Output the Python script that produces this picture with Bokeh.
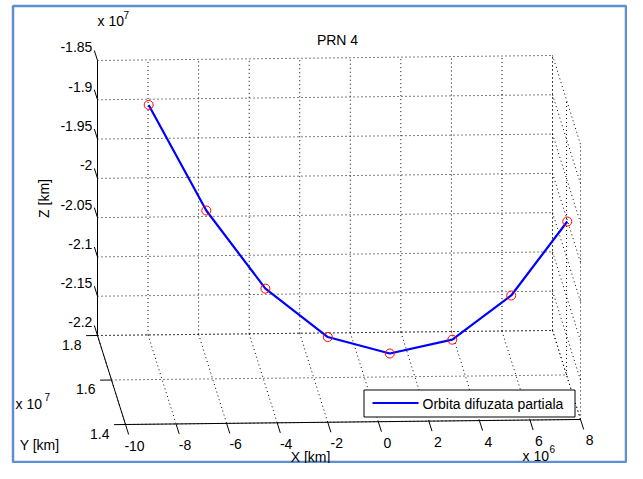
import numpy as np
from bokeh.plotting import figure
from bokeh.models import Range1d
from bokeh.core.properties import value
from bokeh.embed import file_html
from bokeh.resources import INLINE

# ---------------- data (ECEF positions, as plotted) ----------------
x_km = [-8.28e6, -6.14e6, -3.92e6, -1.535e6, 0.87e6, 3.32e6, 5.665e6, 7.93e6]
y_km = [1.690e7, 1.640e7, 1.597e7, 1.567e7, 1.550e7, 1.542e7, 1.547e7, 1.564e7]
z_km = [-1.876e7, -1.997e7, -2.085e7, -2.139e7, -2.156e7, -2.137e7, -2.083e7, -1.9945e7]

x_ticks = [-10, -8, -6, -4, -2, 0, 2, 4, 6, 8]            # x 10^6
x_tick_labels = ["-10", "-8", "-6", "-4", "-2", "0", "2", "4", "6", "8"]
y_ticks = [1.4, 1.6, 1.8]                                  # x 10^7
y_tick_labels = ["1.4", "1.6", "1.8"]
z_ticks = [-2.2, -2.15, -2.1, -2.05, -2.0, -1.95, -1.9, -1.85]  # x 10^7
z_tick_labels = ["-2.2", "-2.15", "-2.1", "-2.05", "-2", "-1.95", "-1.9", "-1.85"]

title_text = "PRN 4"
x_title, y_title, z_title = "X [km]", "Y [km]", "Z [km]"
legend_text = "Orbita difuzata partiala"

XLIM = (-10.0, 8.0)
YLIM = (1.4, 1.8)
ZLIM = (-2.2, -1.85)

# ---------------- orthographic 3-D view (MATLAB-like) ----------------
ORIGIN = (97.0, 335.0)          # screen position of (XLIM0, YLIM1, ZLIM0)
EX = (25.28, -0.28)             # per 1e6 in X
EY = (-70.0, -222.5)            # per 1e7 in Y
EZ = (0.0, -785.7)              # per 1e7 in Z


def proj(X, Y, Z):
    X = np.asarray(X, dtype=float)
    Y = np.asarray(Y, dtype=float)
    Z = np.asarray(Z, dtype=float)
    a = X - XLIM[0]
    b = Y - YLIM[1]
    c = Z - ZLIM[0]
    sx = ORIGIN[0] + EX[0] * a + EY[0] * b + EZ[0] * c
    sy = ORIGIN[1] + EX[1] * a + EY[1] * b + EZ[1] * c
    return sx, sy


FONT = value("Liberation Sans")
FS = "14px"

p = figure(width=627, height=463, x_range=Range1d(0, 627), y_range=Range1d(463, 0),
           output_backend="svg", toolbar_location=None,
           x_axis_location=None, y_axis_location=None, min_border=0)
p.grid.visible = False
p.outline_line_color = None
p.background_fill_color = "white"
p.border_fill_color = "white"

# window frame
p.quad(left=[12.5], right=[625.5], top=[5.5], bottom=[461.5], fill_color=None,
       line_color="#5f8fd3", line_width=2.5)


def seg(P0, P1, **kw):
    xs0, ys0 = proj(*P0)
    xs1, ys1 = proj(*P1)
    xs = [[float(a), float(b)] for a, b in zip(np.atleast_1d(xs0), np.atleast_1d(xs1))]
    ys = [[float(a), float(b)] for a, b in zip(np.atleast_1d(ys0), np.atleast_1d(ys1))]
    p.multi_line(xs, ys, **kw)


grid_kw = dict(line_color="black", line_width=1, line_dash="1 3", line_alpha=1.0)
xt = np.array(x_ticks, float)
yt = np.array(y_ticks, float)
zt = np.array(z_ticks, float)
one = np.ones

# back wall (Y = YLIM1)
seg((xt, YLIM[1] * one(len(xt)), ZLIM[0] * one(len(xt))),
    (xt, YLIM[1] * one(len(xt)), ZLIM[1] * one(len(xt))), **grid_kw)
seg((XLIM[0] * one(len(zt)), YLIM[1] * one(len(zt)), zt),
    (XLIM[1] * one(len(zt)), YLIM[1] * one(len(zt)), zt), **grid_kw)
# floor (Z = ZLIM0)
seg((xt, YLIM[1] * one(len(xt)), ZLIM[0] * one(len(xt))),
    (xt, YLIM[0] * one(len(xt)), ZLIM[0] * one(len(xt))), **grid_kw)
seg((XLIM[0] * one(len(yt)), yt, ZLIM[0] * one(len(yt))),
    (XLIM[1] * one(len(yt)), yt, ZLIM[0] * one(len(yt))), **grid_kw)
# right wall (X = XLIM1)
seg((XLIM[1] * one(len(yt)), yt, ZLIM[0] * one(len(yt))),
    (XLIM[1] * one(len(yt)), yt, ZLIM[1] * one(len(yt))), **grid_kw)
seg((XLIM[1] * one(len(zt)), YLIM[1] * one(len(zt)), zt),
    (XLIM[1] * one(len(zt)), YLIM[0] * one(len(zt)), zt), **grid_kw)

ax_kw = dict(line_color="black", line_width=1)
# axis lines
seg(([XLIM[0]], [YLIM[1]], [ZLIM[0]]), ([XLIM[0]], [YLIM[1]], [ZLIM[1]]), **ax_kw)
seg(([XLIM[0]], [YLIM[1]], [ZLIM[0]]), ([XLIM[0]], [YLIM[0]], [ZLIM[0]]), **ax_kw)
seg(([XLIM[0]], [YLIM[0]], [ZLIM[0]]), ([XLIM[1]], [YLIM[0]], [ZLIM[0]]), **ax_kw)

# ticks
seg((XLIM[0] * one(len(zt)), YLIM[1] * one(len(zt)), zt),
    (XLIM[0] * one(len(zt)), (YLIM[1] + 0.045) * one(len(zt)), zt), **ax_kw)
seg((XLIM[0] * one(len(yt)), yt, ZLIM[0] * one(len(yt))),
    ((XLIM[0] - 0.45) * one(len(yt)), yt, ZLIM[0] * one(len(yt))), **ax_kw)
seg((xt, YLIM[0] * one(len(xt)), ZLIM[0] * one(len(xt))),
    (xt, (YLIM[0] - 0.045) * one(len(xt)), ZLIM[0] * one(len(xt))), **ax_kw)

txt_kw = dict(text_font=FONT, text_font_size=FS, text_color="black")

# Z tick labels
zx, zy = proj(XLIM[0] * one(len(zt)), (YLIM[1] + 0.045) * one(len(zt)), zt)
p.text(x=zx - 2, y=zy - 3, text=z_tick_labels, text_align="right",
       text_baseline="middle", **txt_kw)
# Y tick labels
yx, yy = proj(XLIM[0] * one(len(yt)), yt, ZLIM[0] * one(len(yt)))
p.text(x=yx - 16, y=yy + 9, text=y_tick_labels, text_align="right",
       text_baseline="middle", **txt_kw)
# X tick labels
xx, xy = proj(xt, YLIM[0] * one(len(xt)), ZLIM[0] * one(len(xt)))
p.text(x=xx + 9, y=xy + 21, text=x_tick_labels, text_align="center",
       text_baseline="middle", **txt_kw)

# exponent labels
p.text(x=[97, 15, 522], y=[20, 403, 455], text=["x 10", "x 10", "x 10"],
       text_align="left", text_baseline="middle", **txt_kw)
p.text(x=[123, 44, 549], y=[14, 396, 448], text=["7", "7", "6"],
       text_align="left", text_baseline="middle", text_font=FONT,
       text_font_size="10px", text_color="black")

# axis titles and title
p.text(x=[310], y=[456], text=[x_title], text_align="center", text_baseline="middle", **txt_kw)
p.text(x=[39], y=[444], text=[y_title], text_align="center", text_baseline="middle", **txt_kw)
p.text(x=[43], y=[198], text=[z_title], text_align="center", text_baseline="middle",
       angle=np.pi / 2, **txt_kw)
p.text(x=[337], y=[39], text=[title_text], text_align="center", text_baseline="middle", **txt_kw)

# orbit
sx, sy = proj(np.array(x_km) / 1e6, np.array(y_km) / 1e7, np.array(z_km) / 1e7)
p.line(sx, sy, line_color="#0000ff", line_width=2.2)
p.scatter(sx, sy, marker="circle", size=9, fill_color=None, line_color="#ff0000", line_width=1)

# legend
p.quad(left=[363.5], right=[574.5], top=[389.5], bottom=[416.5], fill_color="white",
       line_color="black", line_width=1)
p.line([372, 418], [402.5, 402.5], line_color="#0000ff", line_width=2.2)
p.text(x=[422], y=[403], text=[legend_text], text_align="left", text_baseline="middle", **txt_kw)

open("out.html", "w").write(file_html(p, INLINE))
